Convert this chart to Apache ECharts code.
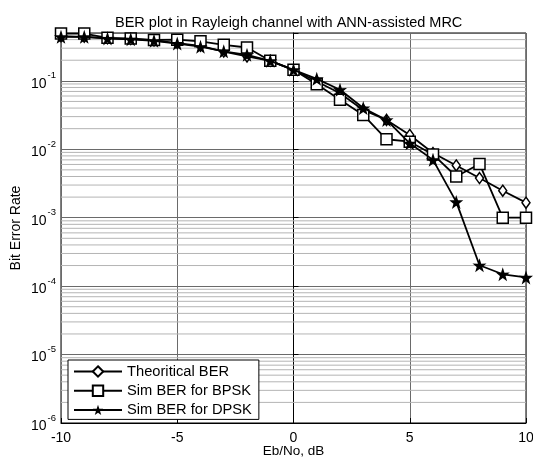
<!DOCTYPE html>
<html>
<head>
<meta charset="utf-8">
<script src="https://cdn.jsdelivr.net/npm/echarts@6/dist/echarts.min.js"></script>
<style>html,body{margin:0;padding:0;background:#fff}#c{width:533px;height:458px}</style>
</head>
<body>
<div id="c"></div>
<script>
const ebNo = [-10,-9,-8,-7,-6,-5,-4,-3,-2,-1,0,1,2,3,4,5,6,7,8,9,10];
const theoreticalBER = [0.45,0.44,0.42,0.41,0.39,0.356,0.325,0.268,0.227,0.196,0.145,0.098,0.066,0.0376,0.0268,0.0162,0.0088,0.0058,0.0038,0.00248,0.00166];
const simBPSK = [0.49,0.49,0.425,0.415,0.395,0.40,0.378,0.336,0.307,0.196,0.145,0.089,0.053,0.0318,0.014,0.0129,0.0084,0.0040,0.0061,0.001,0.001];
const simDPSK = [0.44,0.44,0.415,0.405,0.385,0.35,0.315,0.27,0.24,0.196,0.145,0.107,0.074,0.040,0.0268,0.0122,0.0070,0.0017,0.000202,0.000149,0.000134];
const seriesNames = ['Theoritical BER','Sim BER for BPSK','Sim BER for DPSK'];
const xMin = -10, xMax = 10, yMin = 1e-6, yMax = 0.5;

// minor grid values (2..9 x 10^n) within range
const minorVals = [];
for (let e = -6; e <= -1; e++) {
  for (let k = 2; k <= 9; k++) {
    const v = k * Math.pow(10, e);
    if (v < yMax) minorVals.push(v);
  }
}
const minorGridData = [];
minorVals.forEach(v => { minorGridData.push([xMin, v], [xMax, v], [xMax, '-']); });

const starPath = 'path://M50,0 L61.8,35.1 L97.6,34.5 L69.1,56.7 L79.4,90.5 L50,70 L20.6,90.5 L30.9,56.7 L2.4,34.5 L38.2,35.1 Z';
const font = 'Arial, "Liberation Sans", Helvetica, sans-serif';

function pairs(ys){ return ebNo.map((x,i)=>[x, ys[i]]); }

const chart = echarts.init(document.getElementById('c'), null, {renderer:'canvas'});
chart.setOption({
  animation: false,
  backgroundColor: '#fff',
  textStyle: {fontFamily: font, color:'#000'},
  title: {
    text: 'BER plot in Rayleigh channel with ANN-assisted MRC',
    left: 110, top: 10,
    textStyle: {fontFamily: font, fontSize: 14.5, fontWeight: 'normal', color: '#000'}
  },
  grid: {left: 61, right: 7, top: 33, bottom: 35, show: true, borderColor: '#000', borderWidth: 1,
         backgroundColor:'transparent', containLabel: false, outerBoundsMode: 'none'},
  legend: {
    orient: 'vertical', left: 68, top: 360,
    data: seriesNames,
    itemWidth: 48, itemHeight: 13, itemGap: 2.2,
    padding: [3, 7, 1, 5],
    backgroundColor: '#fff', borderColor: '#000', borderWidth: 1,
    textStyle: {fontFamily: font, fontSize: 14.7, color: '#000', lineHeight: 17}
  },
  xAxis: {
    type: 'value', min: xMin, max: xMax, interval: 5,
    name: 'Eb/No, dB', nameLocation: 'middle', nameGap: 21, nameMoveOverlap: false,
    nameTextStyle: {fontFamily: font, fontSize: 13.5, color: '#000'},
    axisLine: {show: true, onZero: false, lineStyle: {color: '#000'}},
    axisTick: {show: true, inside: true, length: 5, lineStyle: {color:'#000'}},
    axisLabel: {fontFamily: font, fontSize: 14, color: '#000', margin: 8, hideOverlap: false},
    splitLine: {show: true, lineStyle: {color: '#6a6a6a', width: 1}}
  },
  yAxis: {
    type: 'log', logBase: 10, min: yMin, max: yMax,
    name: 'Bit Error Rate', nameLocation: 'middle', nameGap: 38, nameMoveOverlap: false,
    nameTextStyle: {fontFamily: font, fontSize: 14, color: '#000'},
    axisLine: {show: true, lineStyle: {color: '#000'}},
    axisTick: {show: true, inside: true, length: 5, lineStyle: {color:'#000'}},
    axisLabel: {
      color: '#000', margin: 5, hideOverlap: false,
      formatter: function(v){
        const l = Math.log10(v);
        if (Math.abs(l - Math.round(l)) > 1e-6) return '';
        return '{b|10}{s|' + Math.round(l) + '}';
      },
      rich: {
        b: {fontFamily: font, fontSize: 14, color:'#000', verticalAlign:'bottom'},
        s: {fontFamily: font, fontSize: 9.5, color:'#000', verticalAlign:'top', padding:[0,0,10,1]}
      }
    },
    splitLine: {show: true, lineStyle: {color: '#6a6a6a', width: 1}}
  },
  series: [
    {
      name: 'minor-grid', type: 'line', data: minorGridData, z: 1, silent: true,
      symbol: 'none', connectNulls: false, legendHoverLink: false,
      lineStyle: {color: '#b4b4b4', width: 1},
      emphasis: {disabled: true}
    },
    {
      name: seriesNames[0], type: 'line', data: pairs(theoreticalBER), z: 3, clip: false,
      symbol: 'diamond', symbolSize: [8, 11], showAllSymbol: true,
      lineStyle: {color: '#000', width: 1.8},
      itemStyle: {color: '#fff', borderColor: '#000', borderWidth: 1.5}
    },
    {
      name: seriesNames[1], type: 'line', data: pairs(simBPSK), z: 4, clip: false,
      symbol: 'rect', symbolSize: 11, showAllSymbol: true,
      lineStyle: {color: '#000', width: 1.8},
      itemStyle: {color: '#fff', borderColor: '#000', borderWidth: 1.5}
    },
    {
      name: seriesNames[2], type: 'line', data: pairs(simDPSK), z: 5, clip: false,
      symbol: starPath, symbolSize: 14, showAllSymbol: true,
      lineStyle: {color: '#000', width: 1.8},
      itemStyle: {color: '#000', borderColor: '#000', borderWidth: 0}
    }
  ]
});
</script>
</body>
</html>
